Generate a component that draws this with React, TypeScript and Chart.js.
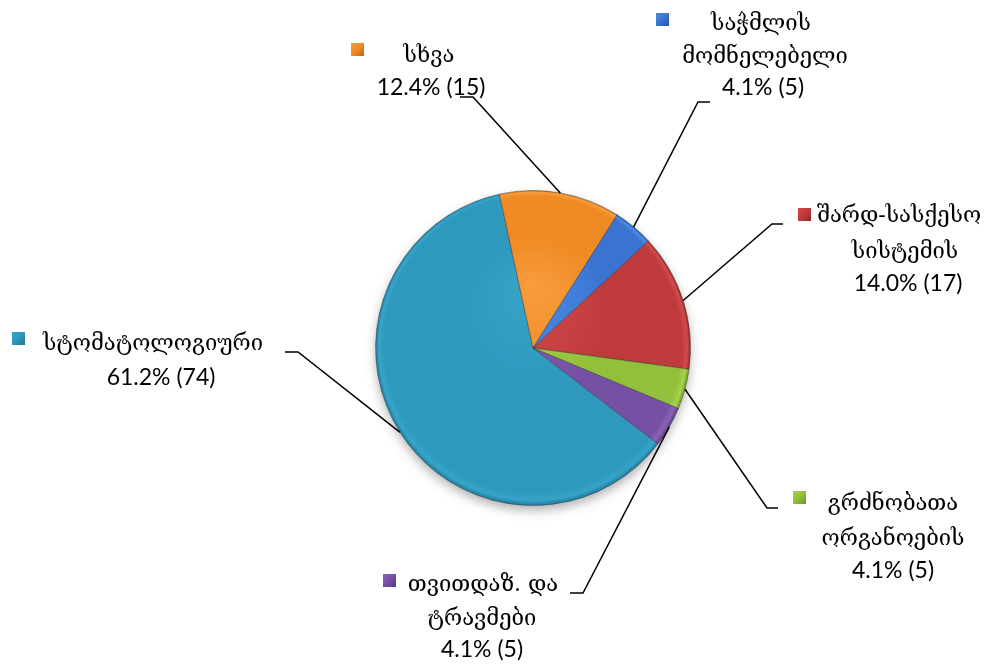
import React, { useEffect, useRef } from "react";
import { Chart, registerables } from "chart.js";

Chart.register(...registerables);

// ---- data ----
const categories = [
  "სტომატოლოგიური",
  "სხვა",
  "საჭმლის მომნელებელი",
  "შარდ-სასქესო სისტემის",
  "გრძნობათა ორგანოების",
  "თვითდაზ. და ტრავმები",
];
const counts = [74, 15, 5, 17, 5, 5];
const labelLines = [
  ["სტომატოლოგიური"],
  ["სხვა"],
  ["საჭმლის", "მომნელებელი"],
  ["შარდ-სასქესო", "სისტემის"],
  ["გრძნობათა", "ორგანოების"],
  ["თვითდაზ. და", "ტრავმები"],
];

// ---- styles ----
const palette = [
  { light: "#36a4c8", base: "#2e98bd", dark: "#1f7494" },
  { light: "#f89c3c", base: "#f08a24", dark: "#c06410" },
  { light: "#4a8ae6", base: "#3a74d0", dark: "#27539f" },
  { light: "#d24a4c", base: "#bf3a3c", dark: "#8f2628" },
  { light: "#a6d24e", base: "#92c03a", dark: "#6a9422" },
  { light: "#8c62b8", base: "#7650a4", dark: "#55387c" },
];

// label layout: per line x centre + baseline; marker; elbow of leader line
const layout = [
  { xs: [153, 161], ys: [350, 385], marker: [12, 332], elbow: [298, 352], end: [285, 352] },
  { xs: [429, 431], ys: [62, 95], marker: [351, 43], elbow: [473, 97], end: [460, 97] },
  { xs: [761, 765, 763], ys: [30, 63, 95], marker: [656, 13], elbow: [698, 102], end: [710, 102] },
  { xs: [899, 905, 908], ys: [222, 258, 291], marker: [798, 208], elbow: [772, 224], end: [783, 224] },
  { xs: [893, 893, 893], ys: [510, 545, 578], marker: [793, 491], elbow: [767, 508], end: [778, 508] },
  { xs: [483, 482, 482], ys: [591, 625, 657], marker: [383, 574], elbow: [583, 593], end: [570, 593] },
];

const NUM_FONT = '23px Lato, "DejaVu Sans", sans-serif';
const GEO_FONT = '22px "DejaVu Serif", "DejaVu Sans", serif';

const shadowPlugin = {
  id: "pieShadow",
  beforeDatasetsDraw(chart: any) {
    const arc = chart.getDatasetMeta(0).data[0];
    if (!arc) return;
    const { x, y, outerRadius } = arc.getProps(["x", "y", "outerRadius"], true);
    const ctx = chart.ctx;
    ctx.save();
    ctx.shadowColor = "rgba(0,0,0,0.35)";
    ctx.shadowBlur = 12;
    ctx.shadowOffsetY = 5;
    ctx.beginPath();
    ctx.arc(x, y, outerRadius - 1, 0, Math.PI * 2);
    ctx.fillStyle = "#ffffff";
    ctx.fill();
    ctx.restore();
  },
};

const labelPlugin = {
  id: "leaderLabels",
  afterDatasetsDraw(chart: any) {
    const ctx = chart.ctx;
    const meta = chart.getDatasetMeta(0);
    const total = counts.reduce((a, b) => a + b, 0);
    meta.data.forEach((arc: any, i: number) => {
      const { x, y, startAngle, endAngle, outerRadius } = arc.getProps(
        ["x", "y", "startAngle", "endAngle", "outerRadius"],
        true
      );
      const mid = (startAngle + endAngle) / 2;
      const px = x + Math.cos(mid) * outerRadius;
      const py = y + Math.sin(mid) * outerRadius;
      const L = layout[i];
      ctx.save();
      ctx.strokeStyle = "#000";
      ctx.lineWidth = 1.5;
      ctx.beginPath();
      ctx.moveTo(px, py);
      ctx.lineTo(L.elbow[0], L.elbow[1]);
      ctx.lineTo(L.end[0], L.end[1]);
      ctx.stroke();

      // marker
      const [mx, my] = L.marker;
      const s = 13;
      const g = ctx.createLinearGradient(mx, my, mx + s, my + s);
      g.addColorStop(0, palette[i].light);
      g.addColorStop(0.5, palette[i].base);
      g.addColorStop(1, palette[i].dark);
      ctx.fillStyle = g;
      ctx.fillRect(mx, my, s, s);

      const pct = ((counts[i] / total) * 100).toFixed(1) + "% (" + counts[i] + ")";
      const lines = [...labelLines[i], pct];
      ctx.fillStyle = "#000";
      ctx.textAlign = "center";
      ctx.textBaseline = "alphabetic";
      lines.forEach((t, k) => {
        ctx.font = k === lines.length - 1 ? NUM_FONT : GEO_FONT;
        ctx.fillText(t, L.xs[k], L.ys[k]);
      });
      ctx.restore();
    });
  },
};

export default function App() {
  const ref = useRef<HTMLCanvasElement | null>(null);
  useEffect(() => {
    if (!ref.current) return;
    const chart = new Chart(ref.current, {
      type: "pie",
      data: {
        labels: categories,
        datasets: [
          {
            data: counts,
            backgroundColor: (c: any) => {
              const ch = c.chart;
              const area = ch.chartArea;
              const p = palette[c.dataIndex] || palette[0];
              if (!area) return p.base;
              const cx = (area.left + area.right) / 2;
              const cy = (area.top + area.bottom) / 2;
              const r = Math.min(area.width, area.height) / 2;
              const g = ch.ctx.createRadialGradient(cx, cy - r * 0.4, 0, cx, cy, r);
              g.addColorStop(0, p.light);
              g.addColorStop(0.5, p.base);
              g.addColorStop(0.94, p.base);
              g.addColorStop(0.975, p.light);
              g.addColorStop(1, p.dark);
              return g;
            },
            borderColor: "rgba(40,40,40,0.4)",
            borderWidth: 1,
          },
        ],
      },
      options: {
        responsive: true,
        maintainAspectRatio: false,
        animation: false,
        rotation: 127.5,
        layout: { padding: { left: 375, right: 306, top: 190, bottom: 165 } },
        plugins: {
          legend: { display: false },
          tooltip: { enabled: false },
        },
      },
      plugins: [shadowPlugin, labelPlugin],
    });
    return () => chart.destroy();
  }, []);
  return (
    <div style={{ position: "fixed", left: 0, top: 0, width: 997, height: 671, background: "#fff" }}>
      <canvas ref={ref} />
    </div>
  );
}
